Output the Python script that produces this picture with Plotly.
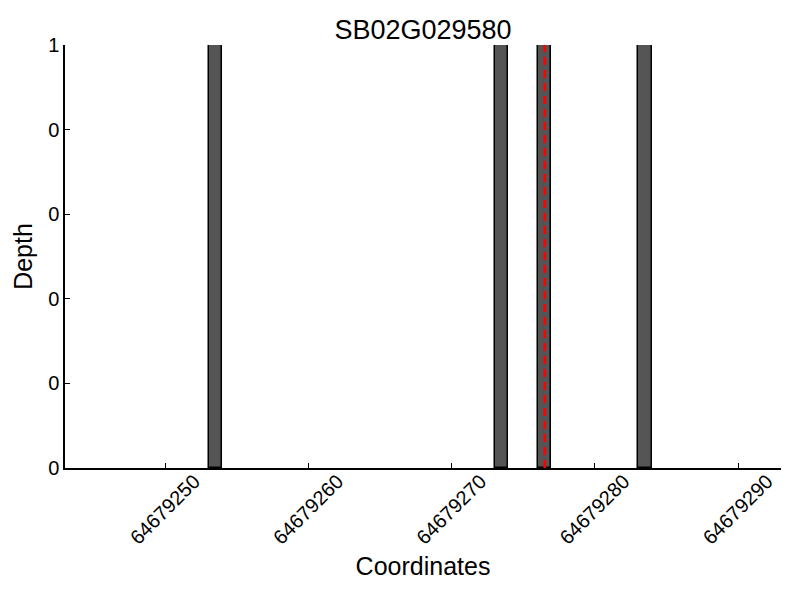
import plotly.graph_objects as go

title = "SB02G029580"
positions = [64679253, 64679273, 64679276, 64679283]
depths = [1, 1, 1, 1]
marker_pos = 64679276.5
x_ticks = [64679250, 64679260, 64679270, 64679280, 64679290]
y_ticks = [0, 0.2, 0.4, 0.6, 0.8, 1.0]
y_tick_labels = ["0", "0", "0", "0", "0", "1"]

FONT = "Liberation Sans, Arial, sans-serif"

# page body has an 8px margin: figure occupies 8..800 x 8..600
fig = go.Figure()
fig.add_trace(go.Bar(
    x=[p + 0.5 for p in positions], y=depths, width=0.92,
    marker=dict(color="#555555", line=dict(color="black", width=1.5)),
    showlegend=False,
))
fig.add_shape(type="line", xref="x", yref="y", x0=marker_pos, x1=marker_pos, y0=0, y1=1,
              line=dict(color="#ff0000", width=2.5, dash="8px,5px"))

fig.update_layout(
    width=792, height=592,
    margin=dict(l=57, r=19, t=37, b=132, autoexpand=False),
    plot_bgcolor="white", paper_bgcolor="white",
    font=dict(family=FONT, color="black"),
    title=dict(text=title, x=0.5, xanchor="center", xref="paper",
               y=1 - 22 / 592, yref="container", yanchor="middle", font=dict(size=27)),
    bargap=0,
)
fig.update_xaxes(
    range=[64679243, 64679293], tickmode="array", tickvals=x_ticks,
    ticktext=[str(v) for v in x_ticks], tickangle=-45, automargin=False,
    ticklabelshift=29, ticklabelstandoff=-8,
    ticks="inside", ticklen=5, tickcolor="black", showline=True, linecolor="black", linewidth=1.5,
    showgrid=False, zeroline=False, tickfont=dict(size=20),
    title=dict(text="Coordinates", font=dict(size=25), standoff=10),
)
fig.update_yaxes(
    range=[0, 1], tickmode="array", tickvals=y_ticks, ticktext=y_tick_labels, automargin=False,
    ticks="inside", ticklen=5, tickcolor="black", showline=True, linecolor="black", linewidth=1.5,
    showgrid=False, zeroline=False, tickfont=dict(size=20),
    title=dict(text="Depth", font=dict(size=25), standoff=8),
)
fig.write_html("out.html")
